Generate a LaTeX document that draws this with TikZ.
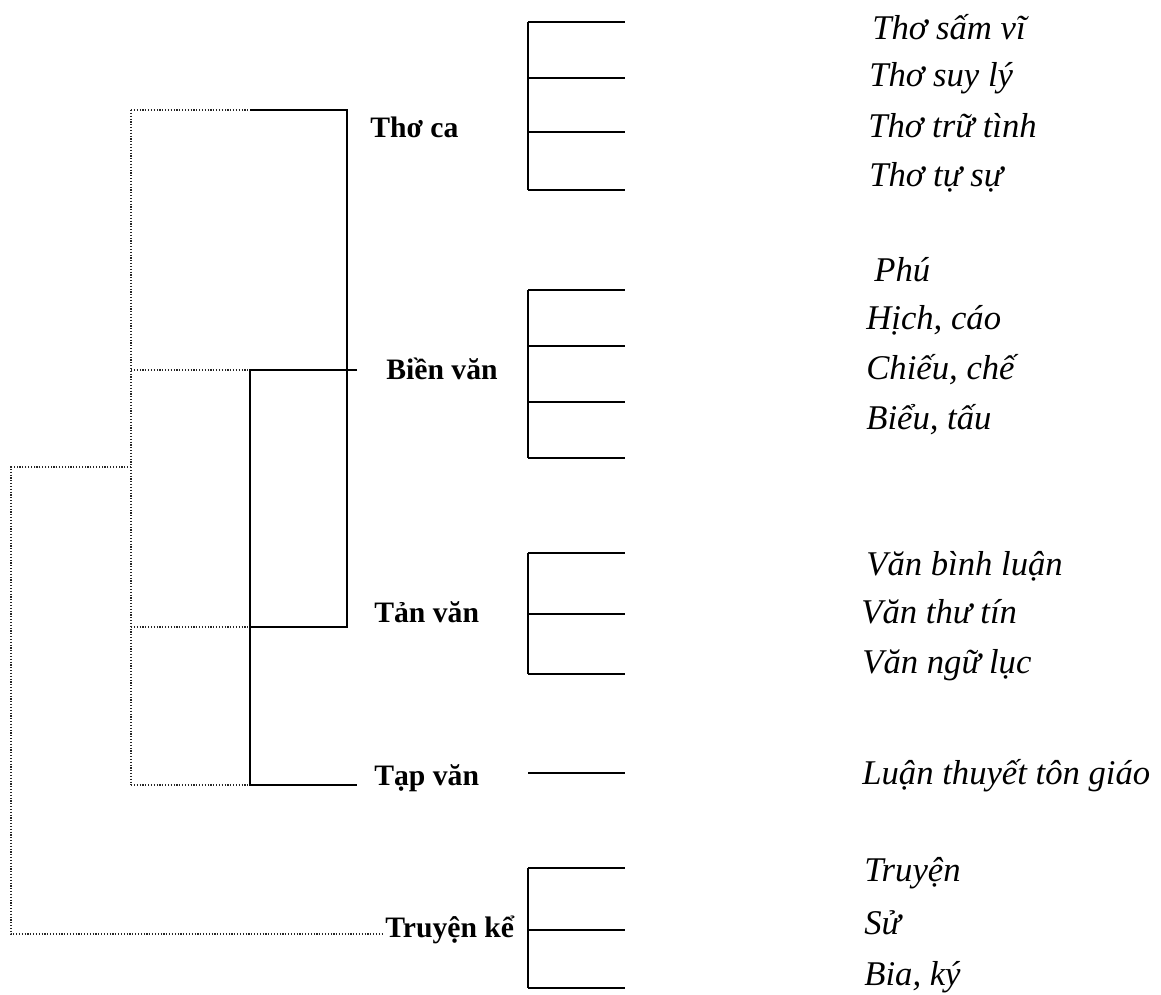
\documentclass[tikz,border=0pt]{standalone}
\usepackage{fontspec}
\setmainfont{Liberation Serif}
\usetikzlibrary{positioning}

\begin{document}
\begin{tikzpicture}[x=0.6pt, y=-0.6pt,
      genre/.style={font=\bfseries\fontsize{17.8}{20}\selectfont, anchor=mid west, inner sep=0pt},
      kind/.style={font=\itshape\fontsize{20.8}{23}\selectfont, anchor=mid west, inner sep=0pt},
      solidln/.style={line width=0.8pt},
      dotln/.style={densely dotted, line width=0.7pt, black!85}]
      \useasboundingbox (0,0) rectangle (1161,994);
      % Genres (bold)
      \node[genre] (thoca) at (370,134) {Thơ ca};
      \node[genre] (bienvan) at (386,376) {Biền văn};
      \node[genre] (tanvan) at (374,619) {Tản văn};
      \node[genre] (tapvan) at (374,782) {Tạp văn};
      \node[genre] (truyenke) at (385,934) {Truyện kể};
      % Kinds (italic)
      \node[kind] (samvi) at (872,36) {Thơ sấm vĩ};
      \node[kind] (suyly) at (869,83) {Thơ suy lý};
      \node[kind] (trutinh) at (868,134) {Thơ trữ tình};
      \node[kind] (tusu) at (869,183) {Thơ tự sự};
      \node[kind] (phu) at (874,278) {Phú};
      \node[kind] (hich) at (866,326) {Hịch, cáo};
      \node[kind] (chieu) at (866,376) {Chiếu, chế};
      \node[kind] (bieu) at (866,426) {Biểu, tấu};
      \node[kind] (binhluan) at (866,572) {Văn bình luận};
      \node[kind] (thutin) at (861,620) {Văn thư tín};
      \node[kind] (nguluc) at (862,670) {Văn ngữ lục};
      \node[kind] (tongiao) at (862,781) {Luận thuyết tôn giáo};
      \node[kind] (truyen) at (864,878) {Truyện};
      \node[kind] (su) at (864,931) {Sử};
      \node[kind] (biaky) at (864,982) {Bia, ký};
      % Tree junctions
      \coordinate (root) at (11,467);
      \coordinate (mid) at (131,467);
      \coordinate (rootend) at (382,934);
      \coordinate (a1) at (131,110);  \coordinate (b1) at (250,110);  \coordinate (c1) at (347,110);
      \coordinate (a2) at (131,370);  \coordinate (b2) at (250,370);  \coordinate (e2) at (357,370);
      \coordinate (a3) at (131,627);  \coordinate (b3) at (250,627);  \coordinate (c3) at (347,627);
      \coordinate (a4) at (131,785);  \coordinate (b4) at (250,785);  \coordinate (e4) at (357,785);
      % Dotted branches
      \draw[dotln] (mid) -- (root) |- (rootend);
      \draw[dotln] (a1) -- (a4);
      \foreach \i in {1,2,3,4} \draw[dotln] (a\i) -- (b\i);
      % Solid branches
      \draw[solidln] (b1) -- (c1) -- (c3) -- (b3);
      \draw[solidln] (e2) -- (b2) -- (b4) -- (e4);
      % Brackets
      \draw[solidln] (528,22) -- (528,190);
      \foreach \y in {22,78,132,190} \draw[solidln] (528,\y) -- (625,\y);
      \draw[solidln] (528,290) -- (528,458);
      \foreach \y in {290,346,402,458} \draw[solidln] (528,\y) -- (625,\y);
      \draw[solidln] (528,553) -- (528,674);
      \foreach \y in {553,614,674} \draw[solidln] (528,\y) -- (625,\y);
      \draw[solidln] (528,773) -- (625,773);
      \draw[solidln] (528,868) -- (528,988);
      \foreach \y in {868,930,988} \draw[solidln] (528,\y) -- (625,\y);
   \end{tikzpicture}
\end{document}
